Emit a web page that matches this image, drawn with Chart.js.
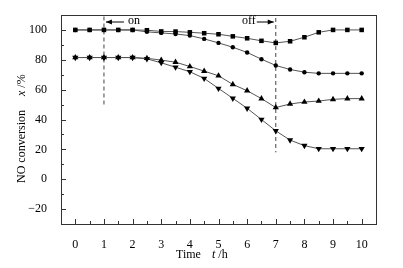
<!DOCTYPE html>
<html>
<head>
<meta charset="utf-8">
<script src="https://cdn.jsdelivr.net/npm/chart.js@4"></script>
<style>
  html, body { margin: 0; padding: 0; background: #fff; }
  #wrap { width: 403px; height: 268px; }
</style>
</head>
<body>
<div id="wrap"><canvas id="chart"></canvas></div>
<script>
// time axis, h (every 0.5 h)
const times = [0, 0.5, 1, 1.5, 2, 2.5, 3, 3.5, 4, 4.5, 5, 5.5, 6, 6.5, 7, 7.5, 8, 8.5, 9, 9.5, 10];

// NO conversion, %
const squares  = [100, 100, 100, 100, 100, 99.8, 99, 98.9, 98.4, 97.8, 97.1, 95.7, 94.4, 92.7, 91.3, 92.4, 95.1, 98.4, 100, 100, 100];
const circles  = [100, 100, 100, 100, 100, 98.7, 98, 97.3, 96.2, 94, 91.3, 88.4, 84.9, 80.4, 76.2, 73.5, 71.7, 70.9, 70.9, 70.9, 70.9];
const triUp    = [81.5, 81.5, 81.5, 81.5, 81.5, 81, 79.8, 78.4, 75.5, 72.4, 69.3, 63.5, 59.3, 54, 48, 50.4, 51.7, 52.4, 53.5, 54, 54];
const triDown  = [81.5, 81.5, 81.5, 81.5, 81.5, 80.6, 78, 75, 72, 67.5, 60.8, 54.2, 47.5, 40, 32.4, 26.2, 22.5, 20.4, 20.4, 20.4, 20.4];

const xTicks = [0, 1, 2, 3, 4, 5, 6, 7, 8, 9, 10];
const yTicks = [-20, 0, 20, 40, 60, 80, 100];

// switch markers: [time, top, bottom, label]
const onMark  = [1, 109, 49, 'on'];
const offMark = [7, 108, 18, 'off'];

const FONT = '"Liberation Serif", "Times New Roman", serif';

function series(vals) {
  return vals.map((v, i) => ({ x: times[i], y: v }));
}

function makeSet(vals, style, r, rot) {
  return {
    data: series(vals),
    borderColor: '#555',
    borderWidth: 1,
    pointStyle: style,
    rotation: rot || 0,
    pointRadius: r,
    pointBackgroundColor: '#000',
    pointBorderColor: '#000',
    pointBorderWidth: 0,
    tension: 0
  };
}

function dashSet(m) {
  return {
    data: [{ x: m[0], y: m[1] }, { x: m[0], y: m[2] }],
    borderColor: '#444',
    borderWidth: 1,
    borderDash: [4, 3],
    pointRadius: 0
  };
}

// frame, inward ticks, titles and on/off arrows
const decor = {
  id: 'decor',
  afterDraw(chart) {
    const ctx = chart.ctx;
    const a = chart.chartArea;
    const xs = chart.scales.x, ys = chart.scales.y;
    ctx.save();
    ctx.strokeStyle = '#333';
    ctx.lineWidth = 1;
    ctx.strokeRect(Math.round(a.left) + 0.5, Math.round(a.top) + 0.5,
      Math.round(a.right - a.left), Math.round(a.bottom - a.top));

    ctx.beginPath();
    for (let v = 0; v <= 10; v += 0.5) {
      const px = Math.round(xs.getPixelForValue(v)) + 0.5;
      const len = Number.isInteger(v) ? 5 : 3;
      ctx.moveTo(px, a.bottom);
      ctx.lineTo(px, a.bottom - len);
    }
    for (let v = -20; v <= 100; v += 10) {
      const py = Math.round(ys.getPixelForValue(v)) + 0.5;
      const len = v % 20 === 0 ? 5 : 3;
      ctx.moveTo(a.left, py);
      ctx.lineTo(a.left + len, py);
    }
    ctx.stroke();

    ctx.fillStyle = '#000';
    ctx.textBaseline = 'middle';

    // x title
    const ty = 255;
    ctx.font = '12px ' + FONT;
    ctx.textAlign = 'left';
    let tx = 176;
    ctx.fillText('Time', tx, ty);
    tx = 212;
    ctx.font = 'italic 12px ' + FONT;
    ctx.fillText('t', tx, ty);
    tx += ctx.measureText('t').width;
    ctx.font = '12px ' + FONT;
    ctx.fillText(' /h', tx, ty);

    // y title
    ctx.save();
    ctx.translate(22, 183);
    ctx.rotate(-Math.PI / 2);
    ctx.font = '12px ' + FONT;
    let rx = 0;
    ctx.fillText('NO conversion', rx, 0);
    rx += ctx.measureText('NO conversion').width + 14;
    ctx.font = 'italic 12px ' + FONT;
    ctx.fillText('x', rx, 0);
    rx += ctx.measureText('x').width;
    ctx.font = '12px ' + FONT;
    ctx.fillText(' /%', rx, 0);
    ctx.restore();

    // on / off arrows
    function arrow(x1, x2, y) {
      ctx.beginPath();
      ctx.moveTo(x1, y);
      ctx.lineTo(x2, y);
      ctx.stroke();
      const d = x2 > x1 ? -1 : 1;
      ctx.beginPath();
      ctx.moveTo(x2, y);
      ctx.lineTo(x2 + d * 6, y - 2.5);
      ctx.lineTo(x2 + d * 6, y + 2.5);
      ctx.closePath();
      ctx.fill();
    }
    ctx.strokeStyle = '#000';
    const onX = xs.getPixelForValue(onMark[0]);
    const offX = xs.getPixelForValue(offMark[0]);
    const ay = 22;
    arrow(onX + 20, onX + 2, ay);
    ctx.font = '12px ' + FONT;
    ctx.textAlign = 'left';
    ctx.fillText(onMark[3], onX + 24, ay - 1);
    arrow(offX - 19, offX - 2, ay);
    ctx.textAlign = 'right';
    ctx.fillText(offMark[3], offX - 20, ay - 1);
    ctx.restore();
  }
};

new Chart(document.getElementById('chart'), {
  type: 'line',
  data: {
    datasets: [
      makeSet(squares, 'rect', 3.2),
      makeSet(circles, 'circle', 2.2),
      makeSet(triUp, 'triangle', 3.6),
      makeSet(triDown, 'triangle', 3.6, 180),
      dashSet(onMark),
      dashSet(offMark)
    ]
  },
  options: {
    responsive: true,
    maintainAspectRatio: false,
    animation: false,
    layout: { padding: { left: 0, right: 27, top: 15, bottom: 0 } },
    plugins: { legend: { display: false }, tooltip: { enabled: false } },
    scales: {
      x: {
        type: 'linear',
        min: -0.5,
        max: 10.5,
        afterBuildTicks: s => { s.ticks = xTicks.map(v => ({ value: v })); },
        afterFit: s => { s.height = 44; },
        grid: { display: false },
        border: { display: false },
        ticks: { color: '#000', padding: 6, maxRotation: 0, font: { family: FONT, size: 12 } }
      },
      y: {
        min: -30,
        max: 110,
        afterBuildTicks: s => { s.ticks = yTicks.map(v => ({ value: v })); },
        afterFit: s => { s.width = 61; },
        grid: { display: false },
        border: { display: false },
        ticks: {
          color: '#000', padding: 6, font: { family: FONT, size: 12 },
          callback: v => v < 0 ? '\u2212' + Math.abs(v) : String(v)
        }
      }
    }
  },
  plugins: [decor]
});
</script>
</body>
</html>
